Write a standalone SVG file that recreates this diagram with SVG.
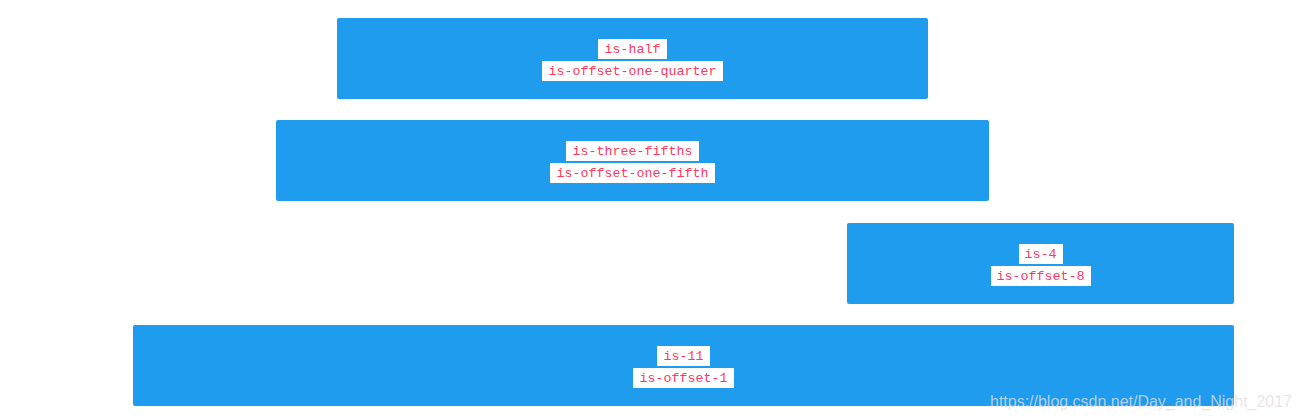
<svg xmlns="http://www.w3.org/2000/svg" width="1302" height="420" viewBox="0 0 1302 420">
<style>
.col{fill:#209cee}
.tag{fill:#ffffff}
.code{font-family:"Liberation Mono","DejaVu Sans Mono",monospace;font-size:13.33px;fill:#ff3860;text-anchor:middle}
.wm{font-family:"Liberation Sans",Arial,sans-serif;font-size:16px;fill:#dfdfdf;fill-opacity:0.78}
</style>
<rect width="1302" height="420" fill="#ffffff"/>
<g id="node-half">
<rect class="col" x="337" y="18" width="591" height="81" rx="2"/>
<rect class="tag" x="598" y="39" width="69" height="20"/>
<text class="code" x="632.5" y="52.5">is-half</text>
<rect class="tag" x="542" y="61" width="181" height="20"/>
<text class="code" x="632.5" y="74.5">is-offset-one-quarter</text>
</g>
<g id="node-three-fifths">
<rect class="col" x="276" y="120" width="713" height="81" rx="2"/>
<rect class="tag" x="566" y="141" width="133" height="20"/>
<text class="code" x="632.5" y="154.5">is-three-fifths</text>
<rect class="tag" x="550" y="163" width="165" height="20"/>
<text class="code" x="632.5" y="176.5">is-offset-one-fifth</text>
</g>
<g id="node-4">
<rect class="col" x="847" y="223" width="387" height="81" rx="2"/>
<rect class="tag" x="1019" y="244" width="44" height="20"/>
<text class="code" x="1040.5" y="257.5">is-4</text>
<rect class="tag" x="991" y="266" width="100" height="20"/>
<text class="code" x="1040.5" y="279.5">is-offset-8</text>
</g>
<g id="node-11">
<rect class="col" x="133" y="325" width="1101" height="81" rx="2"/>
<rect class="tag" x="657" y="346" width="53" height="20"/>
<text class="code" x="683.5" y="359.5">is-11</text>
<rect class="tag" x="633" y="368" width="101" height="20"/>
<text class="code" x="683.5" y="381.5">is-offset-1</text>
</g>
<g id="connectors"></g>
<text class="wm" x="990" y="407" textLength="302" lengthAdjust="spacingAndGlyphs">https://blog.csdn.net/Day_and_Night_2017</text>
</svg>
